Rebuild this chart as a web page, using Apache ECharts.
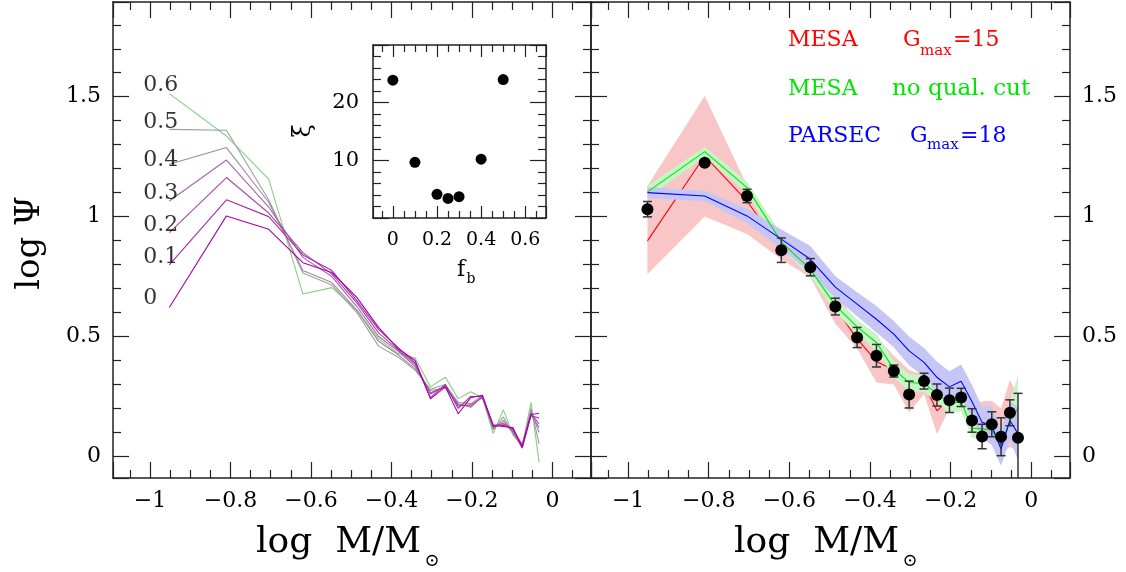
<!DOCTYPE html>
<html><head><meta charset="utf-8">
<script src="https://cdn.jsdelivr.net/npm/echarts@6/dist/echarts.min.js"></script>
<style>html,body{margin:0;padding:0;background:#fff}#c{width:1126px;height:572px}</style>
</head><body><div id="c"></div>
<script>
// ---------------- data ----------------
const massBins = [-0.952, -0.81, -0.705, -0.62, -0.548, -0.486, -0.432, -0.384, -0.341, -0.303, -0.266, -0.234, -0.203, -0.174, -0.147, -0.122, -0.098, -0.075, -0.053, -0.033];

// left panel: log Psi for binary fractions f_b
const fbValues = [0, 0.1, 0.2, 0.3, 0.4, 0.5, 0.6];
const psiFb00 = [0.621, 1.003, 0.947, 0.808, 0.767, 0.663, 0.538, 0.450, 0.400, 0.240, 0.290, 0.178, 0.245, 0.255, 0.130, 0.125, 0.120, 0.040, 0.175, 0.180];
const psiFb01 = [0.799, 1.070, 1.000, 0.840, 0.775, 0.650, 0.530, 0.455, 0.390, 0.245, 0.300, 0.200, 0.250, 0.250, 0.125, 0.130, 0.115, 0.035, 0.170, 0.160];
const psiFb02 = [0.933, 1.163, 1.015, 0.850, 0.760, 0.640, 0.515, 0.445, 0.385, 0.260, 0.295, 0.210, 0.215, 0.245, 0.130, 0.135, 0.110, 0.050, 0.180, 0.135];
const psiFb03 = [1.065, 1.236, 1.040, 0.830, 0.750, 0.625, 0.500, 0.440, 0.375, 0.265, 0.290, 0.220, 0.205, 0.250, 0.120, 0.140, 0.105, 0.045, 0.175, 0.120];
const psiFb04 = [1.218, 1.288, 1.060, 0.775, 0.725, 0.610, 0.480, 0.425, 0.365, 0.275, 0.285, 0.215, 0.210, 0.250, 0.115, 0.150, 0.100, 0.035, 0.190, 0.100];
const psiFb05 = [1.364, 1.360, 1.070, 0.765, 0.715, 0.600, 0.460, 0.415, 0.360, 0.280, 0.300, 0.225, 0.220, 0.255, 0.110, 0.165, 0.095, 0.040, 0.200, 0.052];
const psiFb06 = [1.513, 1.336, 1.156, 0.677, 0.704, 0.610, 0.490, 0.430, 0.410, 0.290, 0.330, 0.240, 0.270, 0.245, 0.095, 0.195, 0.090, 0.045, 0.225, -0.025];

// inset: xi vs f_b
const xiFb = [0, 0.1, 0.2, 0.25, 0.3, 0.4, 0.5];
const xiValues = [23.9, 9.65, 4.1, 3.4, 3.7, 10.2, 24.0];

// right panel: observed log Psi with errors
const obsPsi = [1.031, 1.225, 1.086, 0.860, 0.789, 0.625, 0.496, 0.420, 0.356, 0.258, 0.314, 0.256, 0.234, 0.246, 0.150, 0.083, 0.134, 0.082, 0.182, 0.078];
const obsErr = [0.032, 0.012, 0.028, 0.051, 0.036, 0.035, 0.042, 0.047, 0.025, 0.056, 0.033, 0.046, 0.051, 0.038, 0.049, 0.051, 0.052, 0.079, 0.054, 0.185];

// MESA Gmax=15
const mesaPsi  = [0.899, 1.253, 1.065, 0.864, 0.775, 0.620, 0.490, 0.396, 0.360, 0.300, 0.300, 0.190, 0.240, 0.230, 0.130, 0.100, 0.120, 0.060, 0.180, 0.150];
const mesaLow  = [0.760, 1.000, 0.927, 0.822, 0.746, 0.553, 0.450, 0.308, 0.300, 0.183, 0.260, 0.093, 0.200, 0.190, 0.080, 0.080, 0.050, 0.010, 0.040, 0.020];
const mesaHigh = [1.128, 1.503, 1.130, 0.920, 0.820, 0.680, 0.560, 0.500, 0.420, 0.360, 0.340, 0.290, 0.270, 0.280, 0.200, 0.230, 0.232, 0.200, 0.320, 0.250];

// MESA no quality cut
const mesaNoCutPsi  = [1.103, 1.271, 1.121, 0.895, 0.780, 0.630, 0.540, 0.475, 0.364, 0.308, 0.304, 0.262, 0.220, 0.228, 0.118, 0.115, 0.110, 0.050, 0.150, 0.200];
const mesaNoCutHalf = [0.025, 0.020, 0.025, 0.030, 0.030, 0.030, 0.030, 0.035, 0.035, 0.035, 0.035, 0.035, 0.040, 0.040, 0.040, 0.045, 0.050, 0.050, 0.080, 0.140];

// PARSEC Gmax=18
const parsecPsi  = [1.100, 1.086, 1.003, 0.906, 0.822, 0.706, 0.635, 0.572, 0.510, 0.440, 0.392, 0.330, 0.290, 0.313, 0.228, 0.142, 0.128, 0.031, 0.150, 0.095];
const parsecHalf = [0.022, 0.022, 0.030, 0.040, 0.055, 0.045, 0.050, 0.055, 0.055, 0.060, 0.060, 0.065, 0.065, 0.070, 0.070, 0.065, 0.080, 0.070, 0.080, 0.110];

// ---------------- layout / style ----------------
const leftPsi = [psiFb00, psiFb01, psiFb02, psiFb03, psiFb04, psiFb05, psiFb06];
const fbColors = ['#aa00aa', '#a82aa8', '#a648a6', '#a466a4', '#a088a0', '#98a098', '#88cc88'];
const fbLabelPos = { x: -1.017, y: [0.661, 0.832, 0.965, 1.098, 1.236, 1.394, 1.549] };
const FONT = '"DejaVu Serif", "DejaVu Sans", serif';
const AX = '#222';
const RED = '#ff0000', GREEN = '#00e600', BLUE = '#0000ff';
const minusFmt = v => String(+v.toFixed(4)).replace('-', '\u2212');

function axisCommon(o) {
  return Object.assign({
    type: 'value',
    splitLine: { show: false }, minorSplitLine: { show: false },
    axisLine: { show: true, onZero: false, lineStyle: { color: AX, width: 1.5 } },
    axisTick: { show: true, inside: true, length: o.tick, lineStyle: { color: AX, width: 1.2 } },
    minorTick: { show: true, splitNumber: o.minor, length: o.minorLen, lineStyle: { color: AX, width: 1.2 } },
    axisLabel: { show: o.labels, margin: o.margin || 12, fontFamily: FONT, fontSize: o.fontSize || 22, color: '#000',
      showMinLabel: false, showMaxLabel: false, formatter: minusFmt }
  }, o.extra);
}
const XR = { min: -1.092, max: 0.096 }, YR = { min: -0.09, max: 1.895 };
function mainX(g, pos, labels) {
  return axisCommon({ tick: 16, minor: 4, minorLen: 8, labels, extra: { gridIndex: g, position: pos, min: XR.min, max: XR.max, splitNumber: 6 } });
}
function mainY(g, pos, labels) {
  return axisCommon({ tick: 16, minor: 5, minorLen: 8, labels, extra: { gridIndex: g, position: pos, min: YR.min, max: YR.max, splitNumber: 4 } });
}
const xAxes = [
  mainX(0, 'bottom', true), mainX(0, 'top', false),
  mainX(1, 'bottom', true), mainX(1, 'top', false),
  axisCommon({ tick: 12, minor: 4, minorLen: 7, labels: true, fontSize: 19, margin: 13, extra: { gridIndex: 2, position: 'bottom', min: -0.09, max: 0.694, splitNumber: 4 } }),
  axisCommon({ tick: 12, minor: 4, minorLen: 7, labels: false, extra: { gridIndex: 2, position: 'top', min: -0.09, max: 0.694, splitNumber: 4 } })
];
const yAxes = [
  mainY(0, 'left', true), mainY(0, 'right', false),
  mainY(1, 'left', false), mainY(1, 'right', true),
  axisCommon({ tick: 16, minor: 5, minorLen: 8, labels: true, fontSize: 21, margin: 14, extra: { gridIndex: 2, position: 'left', min: 0, max: 30, interval: 10 } }),
  axisCommon({ tick: 16, minor: 5, minorLen: 8, labels: false, extra: { gridIndex: 2, position: 'right', min: 0, max: 30, interval: 10 } })
];

function band(lo, hi, color, z) {
  return {
    type: 'custom', xAxisIndex: 2, yAxisIndex: 2, clip: true, z, silent: true,
    data: [[massBins[0], lo[0]]],
    renderItem(params, api) {
      const pts = [];
      for (let i = 0; i < massBins.length; i++) pts.push(api.coord([massBins[i], hi[i]]));
      for (let i = massBins.length - 1; i >= 0; i--) pts.push(api.coord([massBins[i], lo[i]]));
      return { type: 'polygon', shape: { points: pts }, style: { fill: color } };
    }
  };
}
function rightLine(vals, color, z) {
  return { type: 'line', xAxisIndex: 2, yAxisIndex: 2, z, silent: true, symbol: 'none', showSymbol: false,
    data: massBins.map((m, i) => [m, vals[i]]), lineStyle: { color, width: 1.1, opacity: 1 } };
}

const series = [];
leftPsi.forEach((arr, k) => series.push({
  type: 'line', xAxisIndex: 0, yAxisIndex: 0, z: 2 + (6 - k) * 0.01, silent: true, symbol: 'none', showSymbol: false,
  data: massBins.map((m, i) => [m, arr[i]]), lineStyle: { color: fbColors[k], width: 1.1, opacity: 1 }
}));
series.push({
  type: 'scatter', xAxisIndex: 0, yAxisIndex: 0, symbolSize: 0, silent: true, z: 5,
  data: fbValues.map((fb, k) => ({ value: [fbLabelPos.x, fbLabelPos.y[k]], label: { formatter: String(fb) } })),
  label: { show: true, position: 'right', distance: 0, fontFamily: FONT, fontSize: 22, color: '#000' }
});
series.push({
  type: 'scatter', xAxisIndex: 4, yAxisIndex: 4, symbolSize: 11, silent: true, z: 6,
  itemStyle: { color: '#000', opacity: 1 }, data: xiFb.map((f, i) => [f, xiValues[i]])
});
const mesaNoCutLo = mesaNoCutPsi.map((v, i) => v - mesaNoCutHalf[i]);
const mesaNoCutHi = mesaNoCutPsi.map((v, i) => v + mesaNoCutHalf[i]);
const parsecLo = parsecPsi.map((v, i) => v - parsecHalf[i]);
const parsecHi = parsecPsi.map((v, i) => v + parsecHalf[i]);
series.push(band(mesaLow, mesaHigh, '#f8c6c6', 1));
series.push(rightLine(mesaPsi, RED, 2));
series.push(band(mesaNoCutLo, mesaNoCutHi, '#c6f6c6', 3));
series.push(band(parsecLo, parsecHi, '#c6c6f6', 4));
series.push(rightLine(mesaNoCutPsi, GREEN, 5));
series.push(rightLine(parsecPsi, BLUE, 6));
series.push({
  type: 'custom', xAxisIndex: 2, yAxisIndex: 2, clip: true, z: 7, silent: true,
  data: massBins.map((m, i) => [m, obsPsi[i], obsErr[i]]),
  renderItem(params, api) {
    const x = api.value(0), y = api.value(1), e = api.value(2);
    const t = api.coord([x, y + e]), b = api.coord([x, y - e]);
    const w = 4.5, st = { stroke: '#333', lineWidth: 1.5 };
    return { type: 'group', children: [
      { type: 'line', shape: { x1: t[0], y1: t[1], x2: b[0], y2: b[1] }, style: st },
      { type: 'line', shape: { x1: t[0] - w, y1: t[1], x2: t[0] + w, y2: t[1] }, style: st },
      { type: 'line', shape: { x1: b[0] - w, y1: b[1], x2: b[0] + w, y2: b[1] }, style: st }
    ] };
  }
});
series.push({
  type: 'scatter', xAxisIndex: 2, yAxisIndex: 2, symbolSize: 12, silent: true, z: 8,
  itemStyle: { color: '#000', opacity: 1 }, data: massBins.map((m, i) => [m, obsPsi[i]])
});

function txt(text, x, y, size, color, align, rot) {
  return { type: 'text', x, y, rotation: rot || 0, silent: true, z: 100,
    style: { text, fill: color || '#000', font: size + 'px ' + FONT, align: align || 'left', verticalAlign: 'middle' } };
}
const graphics = [
  txt('log \u03A8', 30, 243, 34, '#000', 'center', Math.PI / 2),
  txt('log  M/M', 421, 543, 36, '#000', 'right'),
  txt('\u2299', 432, 561, 18, '#000', 'center'),
  txt('log  M/M', 899, 543, 36, '#000', 'right'),
  txt('\u2299', 910, 561, 18, '#000', 'center'),
  txt('\u03BE', 304, 131, 24, '#000', 'center', Math.PI / 2),
  txt('f', 461, 270, 22, '#000', 'center'),
  txt('b', 471, 279, 14, '#000', 'center'),
  txt('MESA', 788, 40, 22, RED), txt('G', 903, 40, 22, RED), txt('max', 920, 51, 15, RED), txt('=15', 953, 40, 22, RED),
  txt('MESA', 788, 89, 22, GREEN), txt('no qual. cut', 892, 89, 23, GREEN),
  txt('PARSEC', 788, 136, 22, BLUE), txt('G', 910, 136, 22, BLUE), txt('max', 927, 145, 15, BLUE), txt('=18', 960, 136, 22, BLUE)
];

const chart = echarts.init(document.getElementById('c'), null, { renderer: 'canvas' });
chart.setOption({
  animation: false,
  backgroundColor: '#fff',
  grid: [
    { left: 113, top: 2, width: 478, height: 476, outerBoundsMode: 'none' },
    { left: 591, top: 2, width: 479, height: 476, outerBoundsMode: 'none' },
    { left: 373, top: 45, width: 173, height: 173, outerBoundsMode: 'none' }
  ],
  xAxis: xAxes,
  yAxis: yAxes,
  series,
  graphic: { elements: graphics }
});
</script>
</body></html>
